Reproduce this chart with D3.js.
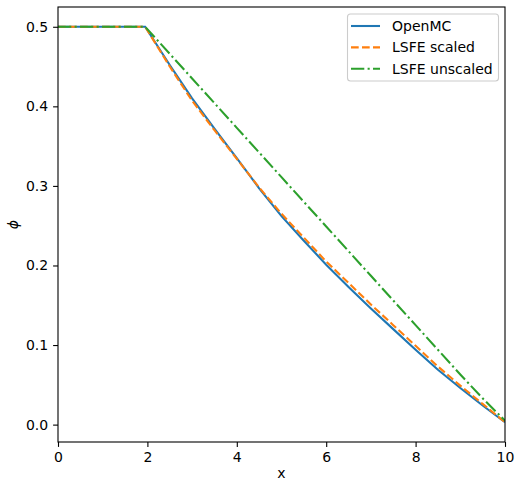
<!DOCTYPE html>
<html>
<head>
<meta charset="utf-8">
<script src="https://cdn.jsdelivr.net/npm/d3@7"></script>
<style>
  body { margin: 0; background: #fff; }
  text { font-family: "DejaVu Sans", sans-serif; }
</style>
</head>
<body>
<svg width="520" height="488"></svg>
<script>
// The data:
var xs = [0, 0.5, 1, 1.5, 1.95, 2.5, 3, 3.5, 4, 4.5, 5, 5.5, 6, 6.5, 7, 7.5, 8, 8.5, 9, 9.5, 10]
var openmc = [0.5, 0.5, 0.5, 0.5, 0.5, 0.452, 0.410, 0.372, 0.335, 0.297, 0.262, 0.231, 0.201, 0.173, 0.146, 0.120, 0.094, 0.069, 0.046, 0.024, 0.003]
var lsfeScaled = [0.5, 0.5, 0.5, 0.5, 0.5, 0.450, 0.407, 0.370, 0.334, 0.298, 0.265, 0.235, 0.205, 0.178, 0.151, 0.125, 0.099, 0.073, 0.049, 0.026, 0.003]
var lsfeUnscaled = [0.5, 0.5, 0.5, 0.5, 0.5, 0.466, 0.435, 0.404, 0.373, 0.342, 0.311, 0.280, 0.249, 0.218, 0.187, 0.156, 0.125, 0.094, 0.063, 0.033, 0.005]
var seriesNames = ['OpenMC', 'LSFE scaled', 'LSFE unscaled']
var xTicks = [0, 2, 4, 6, 8, 10]
var yTicks = [0.0, 0.1, 0.2, 0.3, 0.4, 0.5]

var series = [
  { name: seriesNames[0], values: openmc, color: '#1f77b4', dash: null },
  { name: seriesNames[1], values: lsfeScaled, color: '#ff7f0e', dash: '7.7,3.3' },
  { name: seriesNames[2], values: lsfeUnscaled, color: '#2ca02c', dash: '13.3,3.3,2.1,3.3' },
]

// plot area (window.top is read-only, so no bare "top")
var plotL = 58, plotR = 505, plotT = 7, plotB = 442
var svg = d3.select('svg')

// Scales: matplotlib style 5% margin on y
var yMin = d3.min(series, (s) => d3.min(s.values))
var yMax = d3.max(series, (s) => d3.max(s.values))
var pad = (yMax - yMin) * 0.05
var xScale = d3.scaleLinear().domain([0, 10]).range([plotL, plotR])
var yScale = d3.scaleLinear().domain([yMin - pad, yMax + pad]).range([plotB, plotT])

var clip = svg.append('clipPath').attr('id', 'plotclip')
clip.append('rect').attr('x', plotL).attr('y', plotT).attr('width', plotR - plotL).attr('height', plotB - plotT)

// Lines:
var line = d3.line()
  .x((d, i) => xScale(xs[i]))
  .y((d) => yScale(d))

svg.append('g').attr('clip-path', 'url(#plotclip)')
  .selectAll('path')
  .data(series)
  .enter()
  .append('path')
  .attr('d', (s) => line(s.values))
  .attr('fill', 'none')
  .attr('stroke', (s) => s.color)
  .attr('stroke-width', 2.08)
  .attr('stroke-dasharray', (s) => s.dash)

// Axes:
var xAxis = d3.axisBottom(xScale).tickValues(xTicks).tickFormat(d3.format('d')).tickSizeOuter(0).tickSize(4.9).tickPadding(4.9)
var xG = svg.append('g').attr('transform', 'translate(0,' + plotB + ')').call(xAxis)

var yAxis = d3.axisLeft(yScale).tickValues(yTicks).tickFormat(d3.format('.1f')).tickSizeOuter(0).tickSize(4.9).tickPadding(4.9)
var yG = svg.append('g').attr('transform', 'translate(' + plotL + ',0)').call(yAxis)

;[xG, yG].forEach((g) => {
  g.select('.domain').remove()
  g.selectAll('.tick line').attr('stroke', '#000').attr('stroke-width', 1.1)
  g.selectAll('.tick text').attr('font-size', 14).attr('fill', '#000').style('font-family', 'DejaVu Sans')
})

// Frame:
svg.append('rect')
  .attr('x', plotL).attr('y', plotT)
  .attr('width', plotR - plotL).attr('height', plotB - plotT)
  .attr('fill', 'none').attr('stroke', '#000').attr('stroke-width', 1.1)

// Axis labels:
svg.append('text').attr('x', (plotL + plotR) / 2).attr('y', 478)
  .attr('text-anchor', 'middle').attr('font-size', 14).text('x')
svg.append('text')
  .attr('transform', 'translate(18,' + (plotT + plotB) / 2 + ') rotate(-90)')
  .attr('text-anchor', 'middle').attr('font-size', 14).attr('font-style', 'italic').text('ϕ')

// Legend:
var lg = svg.append('g')
lg.append('rect').attr('x', 347.5).attr('y', 14).attr('width', 151).attr('height', 67)
  .attr('rx', 3).attr('fill', '#fff').attr('fill-opacity', 0.8).attr('stroke', '#ccc').attr('stroke-width', 1.1)
var items = lg.selectAll('g.item').data(series).enter().append('g')
  .attr('transform', (s, i) => 'translate(0,' + (26 + i * 21.4) + ')')
items.append('line').attr('x1', 351).attr('x2', 380).attr('y1', 0).attr('y2', 0)
  .attr('stroke', (s) => s.color).attr('stroke-width', 2.08).attr('stroke-dasharray', (s) => s.dash)
items.append('text').attr('x', 392).attr('y', 5).attr('font-size', 14).text((s) => s.name)
</script>
</body>
</html>
